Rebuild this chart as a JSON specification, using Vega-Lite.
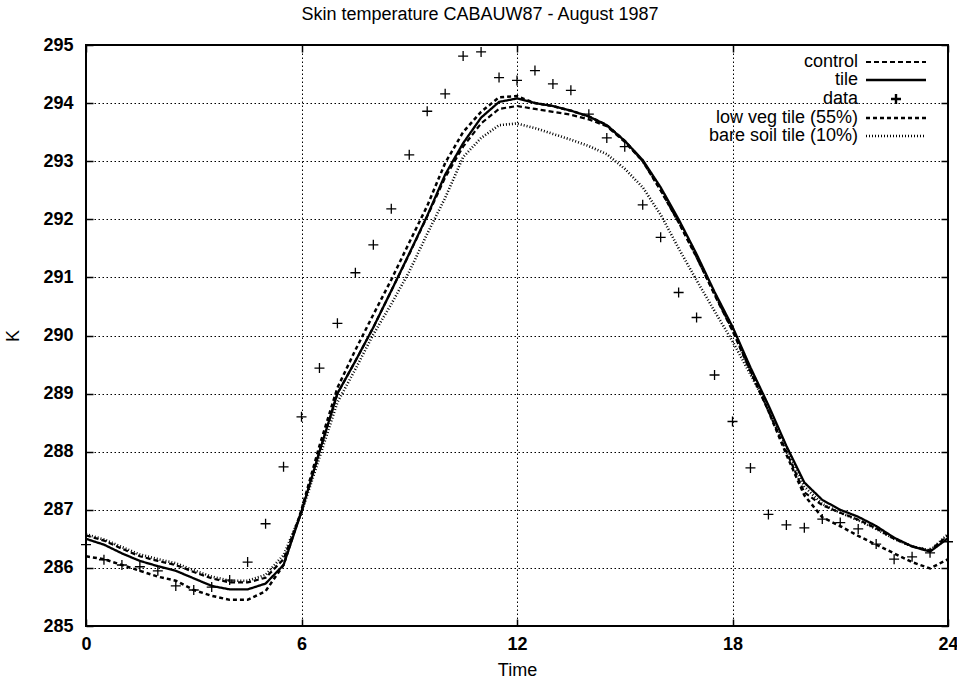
{
"$schema": "https://vega.github.io/schema/vega-lite/v6.json",
"width": 862, "height": 581,
"autosize": {"type": "none"},
"padding": {"left": 86, "top": 45, "right": 9, "bottom": 59},
"background": "white",
"config": {
  "font": "Liberation Sans",
  "view": {"stroke": "black", "strokeWidth": 2},
  "axis": {"gridColor": "black", "gridDash": [1.5, 2.5], "gridWidth": 1, "gridOpacity": 1, "domain": false, "ticks": true, "tickSize": -7, "tickColor": "black", "tickWidth": 1.5, "labelFontSize": 18, "labelFontWeight": "bold", "labelColor": "black", "labelFlush": false, "titleFontSize": 18, "titleColor": "black", "titleFontWeight": "normal", "labelFont": "Liberation Sans", "titleFont": "Liberation Sans"}
},
"title": {"text": "Skin temperature CABAUW87 - August 1987", "fontSize": 18, "fontWeight": "normal", "font": "Liberation Sans", "color": "black", "offset": 12, "dx": -37},
"datasets": {
 "lines": [
  {"series":"tile","t":0,"K":286.5},{"series":"tile","t":0.5,"K":286.4},{"series":"tile","t":1,"K":286.25},{"series":"tile","t":1.5,"K":286.12},{"series":"tile","t":2,"K":286.03},{"series":"tile","t":2.5,"K":285.95},{"series":"tile","t":3,"K":285.82},{"series":"tile","t":3.5,"K":285.69},{"series":"tile","t":4,"K":285.63},{"series":"tile","t":4.5,"K":285.63},{"series":"tile","t":5,"K":285.73},{"series":"tile","t":5.5,"K":286.05},{"series":"tile","t":6,"K":286.97},{"series":"tile","t":6.5,"K":288.0},{"series":"tile","t":7,"K":289.0},{"series":"tile","t":7.5,"K":289.56},{"series":"tile","t":8,"K":290.14},{"series":"tile","t":8.5,"K":290.77},{"series":"tile","t":9,"K":291.41},{"series":"tile","t":9.5,"K":292.06},{"series":"tile","t":10,"K":292.77},{"series":"tile","t":10.5,"K":293.31},{"series":"tile","t":11,"K":293.75},{"series":"tile","t":11.5,"K":294.02},{"series":"tile","t":12,"K":294.08},{"series":"tile","t":12.5,"K":294.0},{"series":"tile","t":13,"K":293.95},{"series":"tile","t":13.5,"K":293.87},{"series":"tile","t":14,"K":293.77},{"series":"tile","t":14.5,"K":293.62},{"series":"tile","t":15,"K":293.35},{"series":"tile","t":15.5,"K":293.02},{"series":"tile","t":16,"K":292.55},{"series":"tile","t":16.5,"K":292.0},{"series":"tile","t":17,"K":291.4},{"series":"tile","t":17.5,"K":290.75},{"series":"tile","t":18,"K":290.15},{"series":"tile","t":18.5,"K":289.45},{"series":"tile","t":19,"K":288.8},{"series":"tile","t":19.5,"K":288.1},{"series":"tile","t":20,"K":287.47},{"series":"tile","t":20.5,"K":287.17},{"series":"tile","t":21,"K":287.0},{"series":"tile","t":21.5,"K":286.88},{"series":"tile","t":22,"K":286.72},{"series":"tile","t":22.5,"K":286.52},{"series":"tile","t":23,"K":286.37},{"series":"tile","t":23.5,"K":286.28},{"series":"tile","t":24,"K":286.51},
  {"series":"control","t":0,"K":286.56},{"series":"control","t":0.5,"K":286.47},{"series":"control","t":1,"K":286.33},{"series":"control","t":1.5,"K":286.2},{"series":"control","t":2,"K":286.12},{"series":"control","t":2.5,"K":286.05},{"series":"control","t":3,"K":285.93},{"series":"control","t":3.5,"K":285.82},{"series":"control","t":4,"K":285.75},{"series":"control","t":4.5,"K":285.75},{"series":"control","t":5,"K":285.83},{"series":"control","t":5.5,"K":286.15},{"series":"control","t":6,"K":286.97},{"series":"control","t":6.5,"K":288.0},{"series":"control","t":7,"K":289.0},{"series":"control","t":7.5,"K":289.56},{"series":"control","t":8,"K":290.14},{"series":"control","t":8.5,"K":290.77},{"series":"control","t":9,"K":291.4},{"series":"control","t":9.5,"K":292.05},{"series":"control","t":10,"K":292.72},{"series":"control","t":10.5,"K":293.25},{"series":"control","t":11,"K":293.65},{"series":"control","t":11.5,"K":293.9},{"series":"control","t":12,"K":293.95},{"series":"control","t":12.5,"K":293.9},{"series":"control","t":13,"K":293.85},{"series":"control","t":13.5,"K":293.8},{"series":"control","t":14,"K":293.72},{"series":"control","t":14.5,"K":293.6},{"series":"control","t":15,"K":293.33},{"series":"control","t":15.5,"K":293.0},{"series":"control","t":16,"K":292.5},{"series":"control","t":16.5,"K":291.95},{"series":"control","t":17,"K":291.35},{"series":"control","t":17.5,"K":290.7},{"series":"control","t":18,"K":290.08},{"series":"control","t":18.5,"K":289.38},{"series":"control","t":19,"K":288.7},{"series":"control","t":19.5,"K":288.0},{"series":"control","t":20,"K":287.3},{"series":"control","t":20.5,"K":287.08},{"series":"control","t":21,"K":286.95},{"series":"control","t":21.5,"K":286.83},{"series":"control","t":22,"K":286.68},{"series":"control","t":22.5,"K":286.5},{"series":"control","t":23,"K":286.37},{"series":"control","t":23.5,"K":286.3},{"series":"control","t":24,"K":286.56},
  {"series":"low veg tile (55%)","t":0,"K":286.2},{"series":"low veg tile (55%)","t":0.5,"K":286.15},{"series":"low veg tile (55%)","t":1,"K":286.05},{"series":"low veg tile (55%)","t":1.5,"K":285.95},{"series":"low veg tile (55%)","t":2,"K":285.85},{"series":"low veg tile (55%)","t":2.5,"K":285.78},{"series":"low veg tile (55%)","t":3,"K":285.62},{"series":"low veg tile (55%)","t":3.5,"K":285.52},{"series":"low veg tile (55%)","t":4,"K":285.45},{"series":"low veg tile (55%)","t":4.5,"K":285.45},{"series":"low veg tile (55%)","t":5,"K":285.6},{"series":"low veg tile (55%)","t":5.5,"K":286.05},{"series":"low veg tile (55%)","t":6,"K":287.0},{"series":"low veg tile (55%)","t":6.5,"K":288.1},{"series":"low veg tile (55%)","t":7,"K":289.1},{"series":"low veg tile (55%)","t":7.5,"K":289.75},{"series":"low veg tile (55%)","t":8,"K":290.36},{"series":"low veg tile (55%)","t":8.5,"K":290.96},{"series":"low veg tile (55%)","t":9,"K":291.6},{"series":"low veg tile (55%)","t":9.5,"K":292.23},{"series":"low veg tile (55%)","t":10,"K":292.97},{"series":"low veg tile (55%)","t":10.5,"K":293.5},{"series":"low veg tile (55%)","t":11,"K":293.85},{"series":"low veg tile (55%)","t":11.5,"K":294.1},{"series":"low veg tile (55%)","t":12,"K":294.12},{"series":"low veg tile (55%)","t":12.5,"K":294.0},{"series":"low veg tile (55%)","t":13,"K":293.95},{"series":"low veg tile (55%)","t":13.5,"K":293.87},{"series":"low veg tile (55%)","t":14,"K":293.77},{"series":"low veg tile (55%)","t":14.5,"K":293.62},{"series":"low veg tile (55%)","t":15,"K":293.35},{"series":"low veg tile (55%)","t":15.5,"K":293.0},{"series":"low veg tile (55%)","t":16,"K":292.5},{"series":"low veg tile (55%)","t":16.5,"K":291.95},{"series":"low veg tile (55%)","t":17,"K":291.35},{"series":"low veg tile (55%)","t":17.5,"K":290.72},{"series":"low veg tile (55%)","t":18,"K":290.1},{"series":"low veg tile (55%)","t":18.5,"K":289.4},{"series":"low veg tile (55%)","t":19,"K":288.7},{"series":"low veg tile (55%)","t":19.5,"K":287.95},{"series":"low veg tile (55%)","t":20,"K":287.25},{"series":"low veg tile (55%)","t":20.5,"K":286.87},{"series":"low veg tile (55%)","t":21,"K":286.72},{"series":"low veg tile (55%)","t":21.5,"K":286.55},{"series":"low veg tile (55%)","t":22,"K":286.4},{"series":"low veg tile (55%)","t":22.5,"K":286.25},{"series":"low veg tile (55%)","t":23,"K":286.1},{"series":"low veg tile (55%)","t":23.5,"K":285.99},{"series":"low veg tile (55%)","t":24,"K":286.15},
  {"series":"bare soil tile (10%)","t":0,"K":286.58},{"series":"bare soil tile (10%)","t":0.5,"K":286.49},{"series":"bare soil tile (10%)","t":1,"K":286.36},{"series":"bare soil tile (10%)","t":1.5,"K":286.23},{"series":"bare soil tile (10%)","t":2,"K":286.15},{"series":"bare soil tile (10%)","t":2.5,"K":286.08},{"series":"bare soil tile (10%)","t":3,"K":285.96},{"series":"bare soil tile (10%)","t":3.5,"K":285.85},{"series":"bare soil tile (10%)","t":4,"K":285.78},{"series":"bare soil tile (10%)","t":4.5,"K":285.78},{"series":"bare soil tile (10%)","t":5,"K":285.88},{"series":"bare soil tile (10%)","t":5.5,"K":286.22},{"series":"bare soil tile (10%)","t":6,"K":286.95},{"series":"bare soil tile (10%)","t":6.5,"K":287.9},{"series":"bare soil tile (10%)","t":7,"K":288.85},{"series":"bare soil tile (10%)","t":7.5,"K":289.42},{"series":"bare soil tile (10%)","t":8,"K":290.02},{"series":"bare soil tile (10%)","t":8.5,"K":290.54},{"series":"bare soil tile (10%)","t":9,"K":291.1},{"series":"bare soil tile (10%)","t":9.5,"K":291.75},{"series":"bare soil tile (10%)","t":10,"K":292.37},{"series":"bare soil tile (10%)","t":10.5,"K":293.07},{"series":"bare soil tile (10%)","t":11,"K":293.4},{"series":"bare soil tile (10%)","t":11.5,"K":293.62},{"series":"bare soil tile (10%)","t":12,"K":293.65},{"series":"bare soil tile (10%)","t":12.5,"K":293.57},{"series":"bare soil tile (10%)","t":13,"K":293.47},{"series":"bare soil tile (10%)","t":13.5,"K":293.37},{"series":"bare soil tile (10%)","t":14,"K":293.26},{"series":"bare soil tile (10%)","t":14.5,"K":293.12},{"series":"bare soil tile (10%)","t":15,"K":292.87},{"series":"bare soil tile (10%)","t":15.5,"K":292.55},{"series":"bare soil tile (10%)","t":16,"K":292.08},{"series":"bare soil tile (10%)","t":16.5,"K":291.5},{"series":"bare soil tile (10%)","t":17,"K":290.95},{"series":"bare soil tile (10%)","t":17.5,"K":290.42},{"series":"bare soil tile (10%)","t":18,"K":289.9},{"series":"bare soil tile (10%)","t":18.5,"K":289.33},{"series":"bare soil tile (10%)","t":19,"K":288.75},{"series":"bare soil tile (10%)","t":19.5,"K":288.08},{"series":"bare soil tile (10%)","t":20,"K":287.4},{"series":"bare soil tile (10%)","t":20.5,"K":287.1},{"series":"bare soil tile (10%)","t":21,"K":286.95},{"series":"bare soil tile (10%)","t":21.5,"K":286.82},{"series":"bare soil tile (10%)","t":22,"K":286.67},{"series":"bare soil tile (10%)","t":22.5,"K":286.5},{"series":"bare soil tile (10%)","t":23,"K":286.37},{"series":"bare soil tile (10%)","t":23.5,"K":286.3},{"series":"bare soil tile (10%)","t":24,"K":286.58}
 ],
 "obs": [
  {"series":"data","t":0,"K":286.4},{"series":"data","t":0.5,"K":286.14},{"series":"data","t":1,"K":286.05},{"series":"data","t":1.5,"K":286.02},{"series":"data","t":2,"K":285.95},{"series":"data","t":2.5,"K":285.69},{"series":"data","t":3,"K":285.62},{"series":"data","t":3.5,"K":285.67},{"series":"data","t":4,"K":285.79},{"series":"data","t":4.5,"K":286.1},{"series":"data","t":5,"K":286.76},{"series":"data","t":5.5,"K":287.74},{"series":"data","t":6,"K":288.6},{"series":"data","t":6.5,"K":289.44},{"series":"data","t":7,"K":290.21},{"series":"data","t":7.5,"K":291.08},{"series":"data","t":8,"K":291.56},{"series":"data","t":8.5,"K":292.18},{"series":"data","t":9,"K":293.11},{"series":"data","t":9.5,"K":293.86},{"series":"data","t":10,"K":294.16},{"series":"data","t":10.5,"K":294.81},{"series":"data","t":11,"K":294.88},{"series":"data","t":11.5,"K":294.44},{"series":"data","t":12,"K":294.39},{"series":"data","t":12.5,"K":294.56},{"series":"data","t":13,"K":294.33},{"series":"data","t":13.5,"K":294.22},{"series":"data","t":14,"K":293.81},{"series":"data","t":14.5,"K":293.4},{"series":"data","t":15,"K":293.25},{"series":"data","t":15.5,"K":292.25},{"series":"data","t":16,"K":291.69},{"series":"data","t":16.5,"K":290.74},{"series":"data","t":17,"K":290.31},{"series":"data","t":17.5,"K":289.32},{"series":"data","t":18,"K":288.52},{"series":"data","t":18.5,"K":287.72},{"series":"data","t":19,"K":286.92},{"series":"data","t":19.5,"K":286.74},{"series":"data","t":20,"K":286.69},{"series":"data","t":20.5,"K":286.84},{"series":"data","t":21,"K":286.78},{"series":"data","t":21.5,"K":286.67},{"series":"data","t":22,"K":286.41},{"series":"data","t":22.5,"K":286.15},{"series":"data","t":23,"K":286.19},{"series":"data","t":23.5,"K":286.26},{"series":"data","t":24,"K":286.45}
 ]
},
"resolve": {"axis": {"x": "independent", "y": "independent"}},
"layer": [
  {
    "data": {"name": "lines"},
    "mark": {"type": "line", "color": "black", "clip": true},
    "encoding": {
      "x": {"field": "t", "type": "quantitative", "scale": {"domain": [0, 24], "nice": false}, "axis": {"values": [0, 6, 12, 18, 24], "title": "Time", "grid": true, "labelPadding": 16, "titlePadding": 8, "format": "d"}},
      "y": {"field": "K", "type": "quantitative", "scale": {"domain": [285, 295], "nice": false, "zero": false}, "axis": {"values": [285, 286, 287, 288, 289, 290, 291, 292, 293, 294, 295], "title": "K", "grid": true, "labelPadding": 20, "titlePadding": 20, "format": "d"}},
      "strokeDash": {"field": "series", "type": "nominal",
        "scale": {"domain": ["control", "tile", "data", "low veg tile (55%)", "bare soil tile (10%)"], "range": [[5, 3], [1, 0], [1, 0], [4, 3], [1, 2]]},
        "legend": {
          "title": null, "orient": "none", "legendX": 772, "legendY": 8, "padding": 0, "rowPadding": 0,
          "labelFontSize": 18, "labelFont": "Liberation Sans", "labelColor": "black", "labelLimit": 400,
          "symbolSize": 100, "symbolStrokeColor": "black",
          "encode": {
            "labels": {"update": {"align": {"value": "right"}, "x": {"value": 0}}},
            "symbols": {"update": {
              "x": {"value": 38},
              "shape": {"signal": "datum.value === 'data' ? 'M-1,0L1,0M0,-1L0,1' : 'M-6,0L6,0'"},
              "size": {"value": 100},
              "strokeDash": {"signal": "datum.value === 'control' ? [5,3] : datum.value === 'low veg tile (55%)' ? [4,3] : datum.value === 'bare soil tile (10%)' ? [1,2] : [1,0]"},
              "strokeWidth": {"signal": "datum.value === 'control' ? 2.2 : datum.value === 'tile' ? 2.6 : datum.value === 'data' ? 1.3 : 1"},
              "stroke": {"value": "black"},
              "fill": {"value": "transparent"},
              "opacity": {"value": 1}
            }}
          }
        }
      },
      "strokeWidth": {"field": "series", "type": "nominal",
        "scale": {"domain": ["control", "tile", "data", "low veg tile (55%)", "bare soil tile (10%)"], "range": [2.2, 2.6, 1, 1.2, 1]},
        "legend": null}
    }
  },
  {
    "data": {"name": "obs"},
    "mark": {"type": "point", "shape": "M-1,0L1,0M0,-1L0,1", "filled": false, "stroke": "black", "strokeWidth": 1.3, "size": 100, "opacity": 1, "clip": false},
    "encoding": {
      "x": {"field": "t", "type": "quantitative", "axis": {"orient": "top", "values": [0, 6, 12, 18, 24], "title": null, "labels": false, "grid": false}},
      "y": {"field": "K", "type": "quantitative", "axis": {"orient": "right", "values": [285, 286, 287, 288, 289, 290, 291, 292, 293, 294, 295], "title": null, "labels": false, "grid": false}}
    }
  }
]
}
